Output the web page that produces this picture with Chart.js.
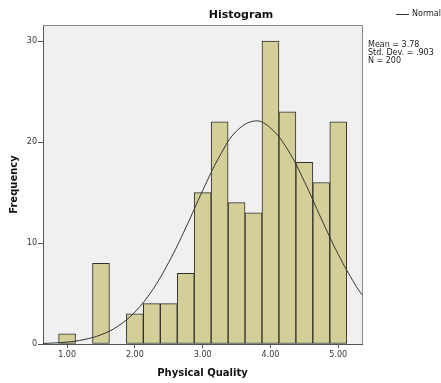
<!DOCTYPE html>
<html>
<head>
<meta charset="utf-8">
<script src="https://cdn.jsdelivr.net/npm/chart.js@4/dist/chart.umd.min.js"></script>
<style>
  html, body { margin: 0; padding: 0; background: #fff; }
  #wrap { width: 441px; height: 383px; }
</style>
</head>
<body>
<div id="wrap"><canvas id="histo" width="441" height="383"></canvas></div>
<script>
// bin centres and counts
const binCentres = [1.0, 1.5, 2.0, 2.25, 2.5, 2.75, 3.0, 3.25, 3.5, 3.75, 4.0, 4.25, 4.5, 4.75, 5.0];
const binCounts = [1, 8, 3, 4, 4, 7, 15, 22, 14, 13, 30, 23, 18, 16, 22];

// normal curve, points
const curveX = [0.65, 1.0, 1.25, 1.5, 1.75, 2.0, 2.25, 2.5, 2.75, 3.0, 3.25, 3.5, 3.78, 4.0, 4.25, 4.5, 4.75, 5.0, 5.25, 5.35];
const curveY = [0.05, 0.19, 0.44, 0.91, 1.77, 3.17, 5.26, 8.09, 11.5, 15.2, 18.6, 21.1, 22.1, 21.4, 19.3, 16.1, 12.4, 8.87, 5.87, 4.87];

const xTicks = [1, 2, 3, 4, 5];
const yTicks = [0, 10, 20, 30];
const statLines = ["Mean = 3.78", "Std. Dev. = .903", "N = 200"];

const FONT = "'DejaVu Sans', Verdana, sans-serif";

const frame = {
  id: "frame",
  beforeDraw(c) {
    const { ctx, chartArea: a } = c;
    ctx.save();
    ctx.fillStyle = "#f0f0f0";
    ctx.fillRect(a.left, a.top, a.right - a.left, a.bottom - a.top);
    ctx.restore();
  },
  afterDraw(c) {
    const { ctx, chartArea: a } = c;
    ctx.save();
    ctx.strokeStyle = "#8a8a8a";
    ctx.lineWidth = 1;
    ctx.beginPath();
    ctx.moveTo(a.left, a.top + 0.5);
    ctx.lineTo(a.right + 0.5, a.top + 0.5);
    ctx.lineTo(a.right + 0.5, a.bottom);
    ctx.stroke();

    ctx.fillStyle = "#111";
    ctx.font = "bold 11px " + FONT;
    ctx.textAlign = "center";
    ctx.textBaseline = "middle";
    ctx.fillText("Histogram", 241, 15);

    // legend
    ctx.strokeStyle = "#333";
    ctx.beginPath();
    ctx.moveTo(396, 14.5);
    ctx.lineTo(409, 14.5);
    ctx.stroke();
    ctx.font = "8px " + FONT;
    ctx.textAlign = "left";
    ctx.fillStyle = "#222";
    ctx.fillText("Normal", 412, 14);

    statLines.forEach((t, i) => ctx.fillText(t, 368, 45 + i * 8));
    ctx.restore();
  },
};

new Chart(document.getElementById("histo"), {
  data: {
    datasets: [
      {
        type: "line",
        data: curveX.map((x, i) => ({ x: x, y: curveY[i] })),
        borderColor: "#333",
        borderWidth: 1,
        pointRadius: 0,
        tension: 0.4,
        order: 0,
      },
      {
        type: "bar",
        data: binCentres.map((x, i) => ({ x: x, y: binCounts[i] })),
        backgroundColor: "#d4cf98",
        borderColor: "#2f2f28",
        borderWidth: 1,
        borderSkipped: false,
        categoryPercentage: 1,
        barPercentage: 1,
        order: 1,
      },
    ],
  },
  options: {
    responsive: false,
    animation: false,
    layout: { padding: { top: 25, right: 79, left: 0, bottom: 0 } },
    plugins: {
      legend: { display: false },
      tooltip: { enabled: false },
      title: { display: false },
    },
    scales: {
      x: {
        type: "linear",
        offset: false,
        min: 0.645,
        max: 5.35,
        afterBuildTicks: (s) => { s.ticks = xTicks.map((v) => ({ value: v })); },
        afterFit: (s) => { s.height = 39; },
        grid: { offset: false, drawOnChartArea: false, tickLength: 4, color: "#555" },
        border: { color: "#555" },
        ticks: {
          callback: (v) => Number(v).toFixed(2),
          font: { family: FONT, size: 8 },
          color: "#333",
          padding: 2,
          maxRotation: 0,
        },
        title: {
          display: true,
          text: "Physical Quality",
          font: { family: FONT, size: 10, weight: "bold" },
          color: "#111",
          padding: { top: 0, bottom: 4 },
        },
      },
      y: {
        min: 0,
        max: 31.6,
        afterBuildTicks: (s) => { s.ticks = yTicks.map((v) => ({ value: v })); },
        afterFit: (s) => { s.width = 43; },
        grid: { drawOnChartArea: false, tickLength: 5, color: "#555" },
        border: { color: "#555" },
        ticks: {
          font: { family: FONT, size: 8 },
          color: "#333",
          padding: 1,
        },
        title: {
          display: true,
          text: "Frequency",
          font: { family: FONT, size: 10, weight: "bold" },
          color: "#111",
          padding: { top: 8, bottom: 0 },
        },
      },
    },
  },
  plugins: [frame],
});
</script>
</body>
</html>
